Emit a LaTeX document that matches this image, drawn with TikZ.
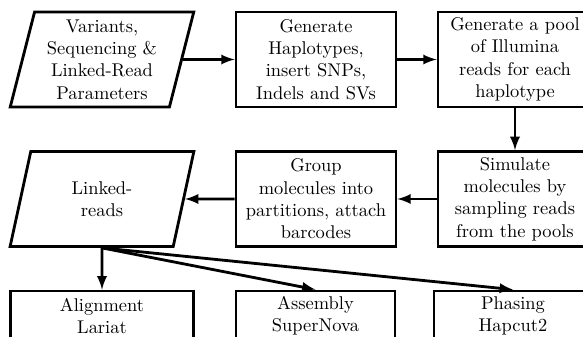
\documentclass[tikz,border=0pt]{standalone}
\usepackage{tikz}
\usetikzlibrary{arrows,shapes.geometric}

\begin{document}
\begin{tikzpicture}[x=0.02cm,y=-0.02cm,>=latex,line width=1.6pt,
                    font=\fontsize{10.5}{12.7}\selectfont]
  \tikzstyle{io}=[draw,trapezium,trapezium left angle=76,trapezium right angle=104,
                  trapezium stretches=true,minimum width=3.68cm,minimum height=1.9cm,
                  align=center,inner sep=0pt]
  \tikzstyle{proc}=[draw,rectangle,minimum height=1.9cm,align=center,inner sep=0pt]
  \tikzstyle{tool}=[draw,rectangle,minimum height=1.0cm,align=center,inner sep=0pt]

  \useasboundingbox (0,0) rectangle (583,337);
  \clip (0,0) rectangle (583,337);

  % top row
  \node[io]                        (params) at (102,59.5)  {Variants,\\Sequencing \&\\Linked-Read\\Parameters};
  \node[proc,minimum width=3.2cm]  (haplo)  at (316,59.5)  {Generate\\Haplotypes,\\insert SNPs,\\Indels and SVs};
  \node[proc,minimum width=3.08cm] (pool)   at (515,59.5)  {Generate a pool\\of Illumina\\reads for each\\haplotype};

  % middle row
  \node[io]                        (linked) at (102,199)   {Linked-\\reads};
  \node[proc,minimum width=3.2cm]  (group)  at (316,199)   {Group\\molecules into\\partitions, attach\\barcodes};
  \node[proc,minimum width=3.08cm] (sim)    at (515,199)   {Simulate\\molecules by\\sampling reads\\from the pools};

  % bottom row
  \node[tool,minimum width=3.66cm] (align)  at (102,316)   {Alignment\\Lariat};
  \node[tool,minimum width=3.18cm] (asm)    at (315.5,316) {Assembly\\SuperNova};
  \node[tool,minimum width=3.16cm] (phase)  at (513,316)   {Phasing\\Hapcut2};

  \path[->] (params) edge (haplo)
            (haplo)  edge (pool)
            (pool)   edge (sim)
            (sim)    edge (group)
            (group)  edge (linked);

  \path[->] (linked.south) edge (align.north)
                           edge (asm.north)
                           edge (phase.north);

\end{tikzpicture}
\end{document}
